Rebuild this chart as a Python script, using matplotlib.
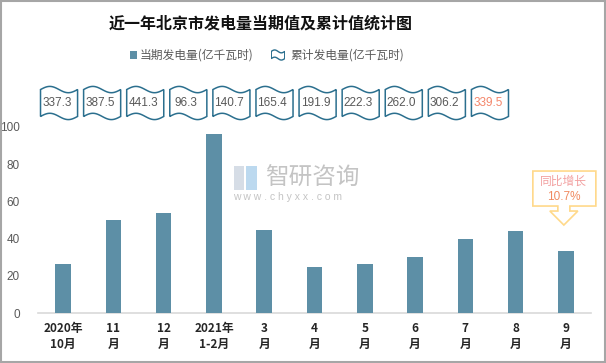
import numpy as np
import matplotlib
matplotlib.use('Agg')
import matplotlib.pyplot as plt
from matplotlib.patches import Polygon, Rectangle, PathPatch
from matplotlib.path import Path
from matplotlib.transforms import IdentityTransform

plt.rcParams['font.family'] = ['Noto Sans CJK SC', 'DejaVu Sans']

# data
months = ['2020年\n10月', '11\n月', '12\n月', '2021年\n1-2月', '3\n月', '4\n月',
          '5\n月', '6\n月', '7\n月', '8\n月', '9\n月']
monthly = [26.4, 50.2, 53.8, 96.3, 44.4, 24.7, 26.5, 30.4, 39.7, 44.2, 33.3]
cumulative = [337.3, 387.5, 441.3, 96.3, 140.7, 165.4, 191.9, 222.3, 262.0, 306.2, 339.5]
yoy_text = '10.7%'

bar_color = '#5d8fa6'
wave_color = '#2b6f8e'
grey_txt = '#595959'
hi_color = '#f4866a'

W, H = 606, 363
fig = plt.figure(figsize=(W / 100, H / 100), dpi=100)
fig.patch.set_facecolor('white')


def fx(px):
    return px / W


def fy(py):
    return 1 - py / H


# main bar axes
ax = fig.add_axes([fx(38), fy(313.3), fx(591) - fx(38), fy(126.7) - fy(313.3)])
x = np.arange(len(months))
ax.bar(x, monthly, width=0.31, color=bar_color, zorder=3)
ax.set_xlim(-0.5, len(months) - 0.5)
ax.set_ylim(0, 100)
ax.set_yticks([0, 20, 40, 60, 80, 100])
ax.set_xticks(x)
ax.set_xticklabels(months, fontsize=8.5, fontweight='bold', color='#262626', linespacing=1.35)
for sp in ['top', 'right', 'left']:
    ax.spines[sp].set_visible(False)
ax.spines['bottom'].set_color('#d9d9d9')
ax.spines['bottom'].set_linewidth(1.2)
ax.tick_params(axis='both', length=0)
ax.tick_params(axis='y', labelsize=8.5, labelcolor=grey_txt, pad=13)
ax.tick_params(axis='x', pad=6)
for lbl in ax.get_yticklabels():
    lbl.set_fontfamily(['Liberation Sans', 'DejaVu Sans'])

# watermark
fig.text(fx(265), fy(178), '智研咨询', fontsize=17, color='#c4c4c4', va='center', ha='left', zorder=0)
fig.text(fx(233), fy(197), 'w w w . c h y x x . c o m', fontsize=7.5, color='#c4c4c4',
         va='center', ha='left', family=['Liberation Sans', 'DejaVu Sans'])
fig.patches.append(Rectangle((fx(234), fy(190)), fx(10), fy(166) - fy(190), transform=fig.transFigure,
                             facecolor='#d6dde6', edgecolor='none'))
fig.patches.append(Rectangle((fx(246), fy(190)), fx(11), fy(166) - fy(190), transform=fig.transFigure,
                             facecolor='#bcd9ef', edgecolor='none'))

# cumulative wave boxes
wax = fig.add_axes([fx(37.5), fy(124), fx(511.5) - fx(37.5), fy(82) - fy(124)])
wax.set_xlim(-0.5, len(months) - 0.5)
wax.set_ylim(0, 1)
wax.axis('off')


def wave_path(cx, cy, hw, hh, amp, n=40):
    t = np.linspace(0, 1, n)
    xs = cx - hw + 2 * hw * t
    top = cy + hh + amp * np.sin(2 * np.pi * t)
    bot = cy - hh + amp * np.sin(2 * np.pi * t)
    verts = list(zip(xs, top)) + list(zip(xs[::-1], bot[::-1]))
    verts.append(verts[0])
    codes = [Path.MOVETO] + [Path.LINETO] * (len(verts) - 2) + [Path.CLOSEPOLY]
    return Path(verts, codes)


for i, v in enumerate(cumulative):
    wax.add_patch(PathPatch(wave_path(i, 0.5, 0.43, 0.32, 0.075), facecolor='white',
                            edgecolor=wave_color, lw=1.1))
    col = hi_color if i == len(cumulative) - 1 else grey_txt
    wax.text(i - 0.05, 0.5, '%.1f' % v, ha='center', va='center', fontsize=8.5, color=col,
             family=['Liberation Sans', 'DejaVu Sans'])

# legend
fig.patches.append(Rectangle((fx(130), fy(58.5)), fx(7), fy(51.5) - fy(58.5), transform=fig.transFigure,
                             facecolor=bar_color, edgecolor='none'))
fig.text(fx(140), fy(55), '当期发电量(亿千瓦时)', fontsize=8.5, color=grey_txt, va='center', ha='left')
lax = fig.add_axes([fx(271), fy(61), fx(14), fy(49) - fy(61)])
lax.set_xlim(0, 1)
lax.set_ylim(0, 1)
lax.axis('off')
lax.add_patch(PathPatch(wave_path(0.5, 0.5, 0.48, 0.3, 0.12), facecolor='white', edgecolor=wave_color, lw=1))
fig.text(fx(290), fy(55), '累计发电量(亿千瓦时)', fontsize=8.5, color=grey_txt, va='center', ha='left')

# title
fig.text(fx(261), fy(24), '近一年北京市发电量当期值及累计值统计图', fontsize=11.5, fontweight='bold',
         color='#111111', ha='center', va='center')

# callout over the last bar
fig.canvas.draw()
tx, ty = ax.transData.transform((len(months) - 1 - 0.04, monthly[-1] + 14))
shape = [(-31, 54), (32, 54), (32, 19), (6, 19), (6, 14), (14, 14), (0, 0),
         (-14, 14), (-6, 14), (-6, 19), (-31, 19)]
fig.patches.append(Polygon([(tx + a, ty + b) for a, b in shape], closed=True, transform=IdentityTransform(),
                           facecolor='white', edgecolor='#ffd98a', lw=1.2))
fig.text(*fig.transFigure.inverted().transform((tx, ty + 44)), '同比增长', fontsize=8.5, color='#f2a0a0',
         ha='center', va='center')
fig.text(*fig.transFigure.inverted().transform((tx, ty + 28)), yoy_text, fontsize=8.5, color='#f08a60',
         ha='center', va='center', family=['Liberation Sans', 'DejaVu Sans'])

# outer frame
fig.patches.append(Rectangle((0.001, 0.002), 0.997, 0.995, transform=fig.transFigure, fill=False,
                             edgecolor='#a6a6a6', lw=1.5))

fig.savefig('out.png', dpi=100)
